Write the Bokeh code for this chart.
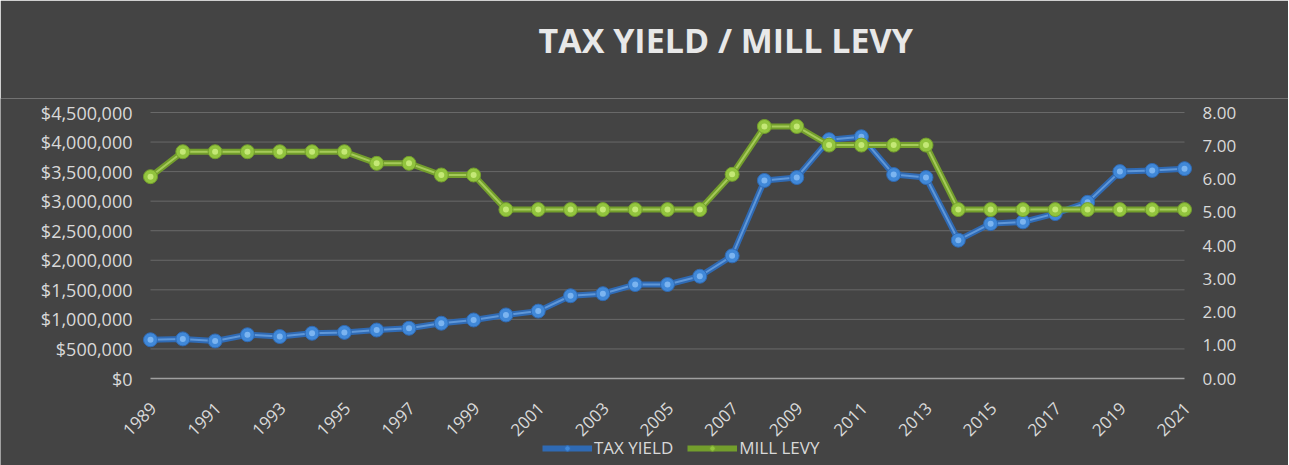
import math
from bokeh.plotting import figure
from bokeh.models import (Range1d, Legend, LegendItem, LabelSet, ColumnDataSource)
from bokeh.core.properties import value
from bokeh.embed import file_html
from bokeh.resources import INLINE

# ---------------- data ----------------
years = [1989, 1990, 1991, 1992, 1993, 1994, 1995, 1996, 1997, 1998, 1999,
         2000, 2001, 2002, 2003, 2004, 2005, 2006, 2007, 2008, 2009, 2010,
         2011, 2012, 2013, 2014, 2015, 2016, 2017, 2018, 2019, 2020, 2021]
tax_yield = [655000, 670000, 635000, 740000, 710000, 765000, 780000, 820000,
             850000, 935000, 990000, 1075000, 1140000, 1400000, 1435000,
             1590000, 1590000, 1730000, 2075000, 3350000, 3400000, 4040000,
             4090000, 3450000, 3400000, 2340000, 2620000, 2650000, 2790000,
             2980000, 3500000, 3520000, 3550000]
mill_levy = [6.07, 6.82, 6.82, 6.82, 6.82, 6.82, 6.82, 6.47, 6.47, 6.12, 6.12,
             5.08, 5.08, 5.08, 5.08, 5.08, 5.08, 5.08, 6.14, 7.58, 7.58, 7.02,
             7.02, 7.02, 7.02, 5.08, 5.08, 5.08, 5.08, 5.08, 5.08, 5.08, 5.08]
left_ticks = [0, 500000, 1000000, 1500000, 2000000, 2500000, 3000000,
              3500000, 4000000, 4500000]
right_ticks = [0, 1, 2, 3, 4, 5, 6, 7, 8]
x_tick_years = [1989, 1991, 1993, 1995, 1997, 1999, 2001, 2003, 2005, 2007,
                2009, 2011, 2013, 2015, 2017, 2019, 2021]
left_tick_labels = ["${:,}".format(v) for v in left_ticks]
right_tick_labels = ["{:.2f}".format(v) for v in right_ticks]
x_tick_labels = [str(y) for y in x_tick_years]
title_text = "TAX YIELD / MILL LEVY"
series_names = ["TAX YIELD", "MILL LEVY"]

# ---------------- layout (pixels) ----------------
W, H = 1288, 465
FRAME_TOP = 98          # top of the drawing area (title above it)
PX_LEFT, PX_RIGHT = 150, 1184   # pixel x of first / last year
PX_TOP, PX_ZERO = 112, 378      # pixel y of max value / zero
LEFT_MAX = 4500000
RIGHT_MAX = 8

x_per_px = (years[-1] - years[0]) / (PX_RIGHT - PX_LEFT)
x_start = years[0] - PX_LEFT * x_per_px
x_end = years[-1] + (W - PX_RIGHT) * x_per_px
l_per_px = LEFT_MAX / (PX_ZERO - PX_TOP)
r_per_px = RIGHT_MAX / (PX_ZERO - PX_TOP)
l_start = -(H - PX_ZERO) * l_per_px
l_end = LEFT_MAX + (PX_TOP - FRAME_TOP) * l_per_px
r_start = -(H - PX_ZERO) * r_per_px
r_end = RIGHT_MAX + (PX_TOP - FRAME_TOP) * r_per_px

# ---------------- style ----------------
BG = "#444444"
GRID = "#696969"
TXT = "#d9d9d9"
FONT = "Open Sans"
BLUE = "#4088d8"
BLUE_DARK = "#2f6ab4"
BLUE_LIGHT = "#86bcf5"
GREEN = "#92c43e"
GREEN_DARK = "#739e2c"
GREEN_LIGHT = "#cdef80"

p = figure(frame_width=W, frame_height=H - FRAME_TOP, output_backend="svg",
           toolbar_location=None,
           x_range=Range1d(x_start, x_end), y_range=Range1d(l_start, l_end),
           min_border_left=0, min_border_right=0, min_border_top=FRAME_TOP,
           min_border_bottom=0, background_fill_color=BG, border_fill_color=BG,
           outline_line_color=None, title=title_text)
p.extra_y_ranges = {"levy": Range1d(r_start, r_end)}
p.xaxis.visible = False
p.yaxis.visible = False
p.grid.visible = False

p.title.align = "left"
p.title.offset = 538
p.title.standoff = 0
p.title.padding = dict(left=0, right=0, top=0, bottom=36)
p.title.text_font = FONT
p.title.text_font_size = "34px"
p.title.text_font_style = "bold"
p.title.text_color = "#e8e8e8"

# gridlines and zero line
n_grid = len(left_ticks) - 1
p.segment(x0=[years[0]] * n_grid, y0=left_ticks[1:], x1=[years[-1]] * n_grid,
          y1=left_ticks[1:], line_color=GRID, line_width=1)
p.segment(x0=[years[0]], y0=[left_ticks[0]], x1=[years[-1]], y1=[left_ticks[0]],
          line_color="#a0a0a0", line_width=1.5)

# left axis labels
lsrc = ColumnDataSource(dict(x=[years[0]] * len(left_ticks), y=left_ticks,
                             text=left_tick_labels))
p.add_layout(LabelSet(x="x", y="y", text="text", source=lsrc, x_offset=-18,
                      text_align="right", text_baseline="middle", text_color=TXT,
                      text_font=value(FONT), text_font_size=value("18px")))

# right axis labels
rsrc = ColumnDataSource(dict(x=[years[-1]] * len(right_ticks), y=right_ticks,
                             text=right_tick_labels))
p.add_layout(LabelSet(x="x", y="y", text="text", source=rsrc, x_offset=18,
                      y_range_name="levy", text_align="left",
                      text_baseline="middle", text_color=TXT,
                      text_font=value(FONT), text_font_size=value("17px")))

# x axis labels (rotated)
xsrc = ColumnDataSource(dict(x=x_tick_years, y=[0] * len(x_tick_years),
                             text=x_tick_labels))
p.add_layout(LabelSet(x="x", y="y", text="text", source=xsrc,
                      angle=math.pi / 4, text_align="right",
                      text_baseline="middle", x_offset=3, y_offset=-27,
                      text_color=TXT, text_font=value(FONT),
                      text_font_size=value("17px")))

# series: tax yield
t_line = p.line(years, tax_yield, line_width=6, line_color=BLUE_DARK)
p.line(years, tax_yield, line_width=2, line_color=BLUE_LIGHT, line_alpha=0.55)
t_mark = p.scatter(years, tax_yield, size=14, fill_color=BLUE, line_color=BLUE_DARK,
                   line_width=1)
p.scatter(years, tax_yield, size=6, fill_color=BLUE_LIGHT, line_color=None,
          fill_alpha=0.85)

# series: mill levy
m_line = p.line(years, mill_levy, line_width=6, line_color=GREEN_DARK,
                y_range_name="levy")
p.line(years, mill_levy, line_width=2, line_color=GREEN_LIGHT, line_alpha=0.55,
       y_range_name="levy")
m_mark = p.scatter(years, mill_levy, size=14, fill_color=GREEN, line_color=GREEN_DARK,
                   line_width=1, y_range_name="levy")
p.scatter(years, mill_levy, size=6, fill_color=GREEN_LIGHT, line_color=None,
          fill_alpha=0.85, y_range_name="levy")

legend = Legend(items=[LegendItem(label=series_names[0], renderers=[t_line, t_mark]),
                       LegendItem(label=series_names[1], renderers=[m_line, m_mark])],
                orientation="horizontal", location=(542, 6),
                background_fill_alpha=0, border_line_color=None,
                label_text_color=TXT, label_text_font=FONT,
                label_text_font_size="17px", glyph_width=50, glyph_height=14,
                spacing=14, padding=2, margin=0, label_standoff=2)
p.add_layout(legend, "center")

open("out.html", "w").write(file_html(p, INLINE))
